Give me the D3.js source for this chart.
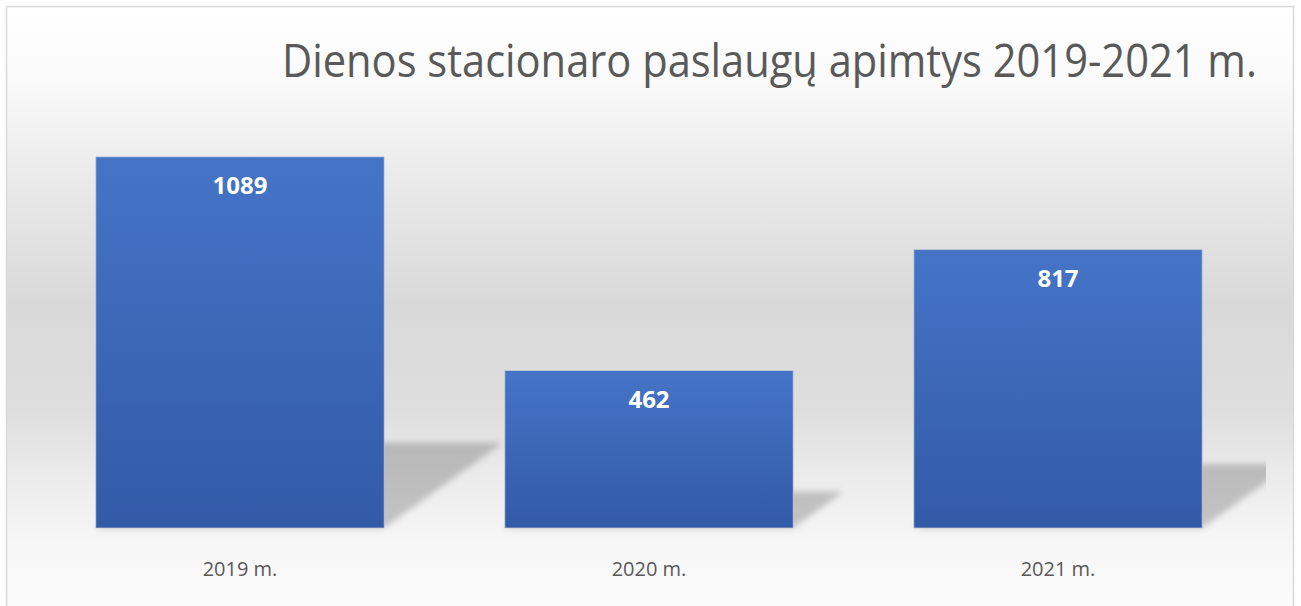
<!DOCTYPE html>
<html>
<head>
<meta charset="utf-8">
<style>
    body { margin: 0; background: #fff; }
    svg { display: block; font-family: "Open Sans", sans-serif; }
</style>
</head>
<body>
<svg width="1301" height="606"></svg>
<script src="https://d3js.org/d3.v7.min.js"></script>
<script>
    const title = "Dienos stacionaro paslaugų apimtys 2019-2021 m.";
    const categories = ["2019 m.", "2020 m.", "2021 m."];
    const values = [1089, 462, 817];
    const yDomain = [0, 1200];

    const width = 1301, height = 606;
    const plot = {left: 32, right: 1266, top: 119, bottom: 528};

    const svg = d3.select("svg");
    const defs = svg.append("defs");

    // chart area background: white -> grey -> white
    const bg = defs.append("linearGradient")
        .attr("id", "bg").attr("x1", 0).attr("x2", 0).attr("y1", 0).attr("y2", 1);
    [[0, "#ffffff"], [0.12, "#fafafa"], [0.3, "#e8e8e8"], [0.48, "#d9d9d9"],
     [0.65, "#dedede"], [0.78, "#eeeeee"], [0.87, "#f7f7f7"], [1, "#fcfcfc"]]
        .forEach(([o, c]) => bg.append("stop").attr("offset", o).attr("stop-color", c));

    const barGrad = defs.append("linearGradient")
        .attr("id", "barGrad").attr("x1", 0).attr("x2", 0).attr("y1", 0).attr("y2", 1);
    barGrad.append("stop").attr("offset", 0).attr("stop-color", "#4574c7");
    barGrad.append("stop").attr("offset", 1).attr("stop-color", "#325aa7");

    defs.append("filter").attr("id", "blur")
        .attr("x", "-20%").attr("y", "-20%").attr("width", "140%").attr("height", "140%")
        .append("feGaussianBlur").attr("stdDeviation", 3);

    defs.append("clipPath").attr("id", "plotClip")
        .append("rect")
        .attr("x", plot.left).attr("y", 0)
        .attr("width", plot.right - plot.left).attr("height", plot.bottom + 10);

    svg.append("rect")
        .attr("x", 6.5).attr("y", 6.5)
        .attr("width", 1287).attr("height", 620)
        .attr("fill", "url(#bg)")
        .attr("stroke", "#d9d9d9")
        .attr("stroke-width", 1.5);

    const x = d3.scaleBand()
        .domain(categories)
        .range([plot.left, plot.right])
        .paddingInner(0.295)
        .paddingOuter(0.156);

    const y = d3.scaleLinear()
        .domain(yDomain)
        .range([plot.bottom, plot.top]);

    const data = categories.map((c, i) => ({cat: c, value: values[i]}));

    // perspective shadows behind bars
    svg.append("g")
        .attr("clip-path", "url(#plotClip)")
        .selectAll("path")
        .data(data)
        .join("path")
        .attr("fill", "#000")
        .attr("fill-opacity", 0.2)
        .attr("filter", "url(#blur)")
        .attr("d", d => {
            const x0 = x(d.cat), x1 = x(d.cat) + x.bandwidth();
            const h = y(0) - y(d.value);
            const dy = h * 0.23, dx = h * 0.32;
            return `M${x0},${y(0)}L${x1},${y(0)}L${x1 + dx},${y(0) - dy}L${x0 + dx},${y(0) - dy}Z`;
        });

    svg.append("g")
        .selectAll("rect")
        .data(data)
        .join("rect")
        .attr("x", d => x(d.cat))
        .attr("y", d => y(d.value))
        .attr("width", x.bandwidth())
        .attr("height", d => y(0) - y(d.value))
        .attr("fill", "url(#barGrad)")
        .attr("stroke", "#c8ced8")
        .attr("stroke-opacity", 0.7)
        .attr("stroke-width", 1);

    svg.append("g")
        .selectAll("text")
        .data(data)
        .join("text")
        .attr("x", d => x(d.cat) + x.bandwidth() / 2)
        .attr("y", d => y(d.value) + 37)
        .attr("text-anchor", "middle")
        .attr("fill", "#ffffff")
        .attr("font-weight", 700)
        .attr("font-size", 24)
        .text(d => d.value);

    svg.append("g")
        .selectAll("text")
        .data(data)
        .join("text")
        .attr("x", d => x(d.cat) + x.bandwidth() / 2)
        .attr("y", 576)
        .attr("text-anchor", "middle")
        .attr("fill", "#595959")
        .attr("font-size", 20)
        .text(d => d.cat);

    // title: squeeze horizontally to the narrow width of the original font
    const titleText = svg.append("text")
        .attr("fill", "#595959")
        .attr("font-size", 45)
        .text(title);
    const natural = titleText.node().getComputedTextLength();
    titleText.attr("transform", `translate(282,77) scale(${975 / natural},1)`);
</script>
</body>
</html>
